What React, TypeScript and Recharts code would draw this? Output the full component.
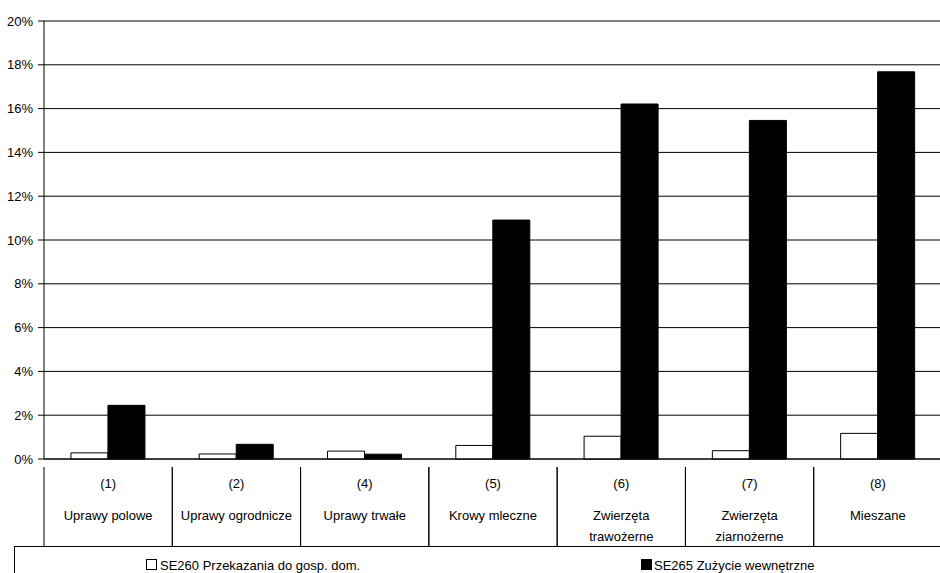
import React from 'react';
import { BarChart, Bar, XAxis, YAxis, CartesianGrid } from 'recharts';

const codes = ['(1)', '(2)', '(4)', '(5)', '(6)', '(7)', '(8)'];
const names = [
  ['Uprawy polowe'],
  ['Uprawy ogrodnicze'],
  ['Uprawy trwałe'],
  ['Krowy mleczne'],
  ['Zwierzęta', 'trawożerne'],
  ['Zwierzęta', 'ziarnożerne'],
  ['Mieszane'],
];
const se260 = [0.28, 0.23, 0.36, 0.62, 1.04, 0.38, 1.17];
const se265 = [2.45, 0.67, 0.22, 10.91, 16.21, 15.46, 17.68];
const yTicks = [0, 2, 4, 6, 8, 10, 12, 14, 16, 18, 20];
const seriesNames = ['SE260 Przekazania do gosp. dom.', 'SE265 Zużycie wewnętrzne'];

const data = codes.map((c, i) => ({ code: c, idx: i, se260: se260[i], se265: se265[i] }));

const FONT = '"Liberation Sans", Arial, sans-serif';

const CW = 944;
const CH = 573;
const PLOT_LEFT = 44;
const PLOT_RIGHT = 942;
const BAND = (PLOT_RIGHT - PLOT_LEFT) / codes.length;

const CatTick = (props: any) => {
  const { x, y, payload } = props;
  const i = payload.index;
  const lines = names[i] || [];
  const left = x - BAND / 2;
  return (
    <g>
      <line x1={left} y1={y} x2={left} y2={546} stroke="#000" strokeWidth={1} />
      <line x1={left + BAND} y1={y} x2={left + BAND} y2={546} stroke="#000" strokeWidth={1} />
      <text x={x} y={488} textAnchor="middle" fontSize={13} fontFamily={FONT} fill="#000">
        {codes[i]}
      </text>
      {lines.map((l: string, k: number) => (
        <text key={k} x={x} y={520 + k * 21} textAnchor="middle" fontSize={13} fontFamily={FONT} fill="#000">
          {l}
        </text>
      ))}
    </g>
  );
};

export default function App() {
  return (
    <div style={{ position: 'absolute', left: 0, top: 0, width: 940, height: 573, overflow: 'hidden', background: '#fff' }}>
      <BarChart
        width={CW}
        height={CH}
        data={data}
        margin={{ top: 21, right: CW - PLOT_RIGHT, bottom: 27, left: 0 }}
        barCategoryGap="21%"
        barGap={0}
      >
        <CartesianGrid vertical={false} stroke="#000" strokeWidth={1} />
        <XAxis
          dataKey="code"
          height={87}
          axisLine={{ stroke: '#000' }}
          tickLine={false}
          interval={0}
          tick={<CatTick />}
        />
        <YAxis
          width={PLOT_LEFT}
          domain={[0, 20]}
          ticks={yTicks}
          interval={0}
          tickFormatter={(v: number) => `${v}%`}
          axisLine={{ stroke: '#000' }}
          tickLine={{ stroke: '#000' }}
          tickSize={6}
          tickMargin={5}
          tick={{ fontSize: 13, fontFamily: FONT, fill: '#000' }}
        />
        <Bar dataKey="se260" name={seriesNames[0]} fill="#fff" stroke="#000" strokeWidth={1} isAnimationActive={false} />
        <Bar dataKey="se265" name={seriesNames[1]} fill="#000" stroke="#000" strokeWidth={1} isAnimationActive={false} />
      </BarChart>
      <div
        style={{
          position: 'absolute',
          left: 14,
          top: 546,
          width: 940,
          height: 40,
          borderTop: '1px solid #000',
          borderLeft: '1px solid #000',
          fontFamily: FONT,
          fontSize: 13,
          color: '#000',
        }}
      >
        <div style={{ position: 'absolute', left: 131, top: 12, width: 11, height: 11, border: '1px solid #000', boxSizing: 'border-box', background: '#fff' }} />
        <div style={{ position: 'absolute', left: 145, top: 11, lineHeight: '15px', whiteSpace: 'nowrap' }}>{seriesNames[0]}</div>
        <div style={{ position: 'absolute', left: 626, top: 12, width: 11, height: 11, background: '#000' }} />
        <div style={{ position: 'absolute', left: 639, top: 11, lineHeight: '15px', whiteSpace: 'nowrap' }}>{seriesNames[1]}</div>
      </div>
    </div>
  );
}
